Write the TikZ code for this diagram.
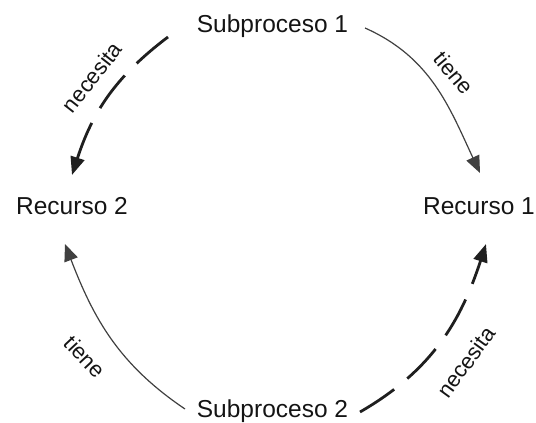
\documentclass[tikz,border=0pt]{standalone}
\usepackage{fontspec}
\setmainfont{Liberation Sans}
\usetikzlibrary{arrows.meta}
\begin{document}
\begin{tikzpicture}[x=1pt,y=1pt,
  nodetext/.style={font=\fontsize{24.5}{28}\selectfont, text=black!92, inner sep=0pt, anchor=base},
  lbl/.style={font=\fontsize{22}{26}\selectfont, text=black!92, inner sep=0pt},
  thinarc/.style={draw=black!75, line width=1.2pt, -{Triangle[length=17pt,width=14pt]}},
  dasharc/.style={draw=black!88, line width=2.8pt, dash pattern=on 41pt off 17pt, -{Triangle[length=18pt,width=14pt]}}]
\useasboundingbox (0,0) rectangle (536,423);
\node[nodetext] (s1) at (272.5,390) {Subproceso 1};
\node[nodetext] (r2) at (72,208) {Recurso 2};
\node[nodetext] (r1) at (479,208) {Recurso 1};
\node[nodetext] (s2) at (272.5,5) {Subproceso 2};

\draw[thinarc] ([shift={(92.5,5)}]s1.base) to[out=-24,in=115] ([shift={(1,42)}]r1.base);
\draw[dasharc] ([shift={(-104.5,-4)}]s1.base) to[out=217,in=72] ([shift={(0,40)}]r2.base);
\draw[thinarc] ([shift={(-87.5,9)}]s2.base) to[out=146,in=-69] ([shift={(-7,-29)}]r2.base);
\draw[dasharc] ([shift={(87.5,6)}]s2.base) to[out=30,in=-108] ([shift={(7,-29)}]r1.base);

\node[lbl, rotate=-50] (l1) at (454,350) {tiene};
\node[lbl, rotate=52] (l2) at (92,346) {necesita};
\node[lbl, rotate=-47] (l3) at (85,66) {tiene};
\node[lbl, rotate=54] (l4) at (466,61) {necesita};
\end{tikzpicture}
\end{document}
